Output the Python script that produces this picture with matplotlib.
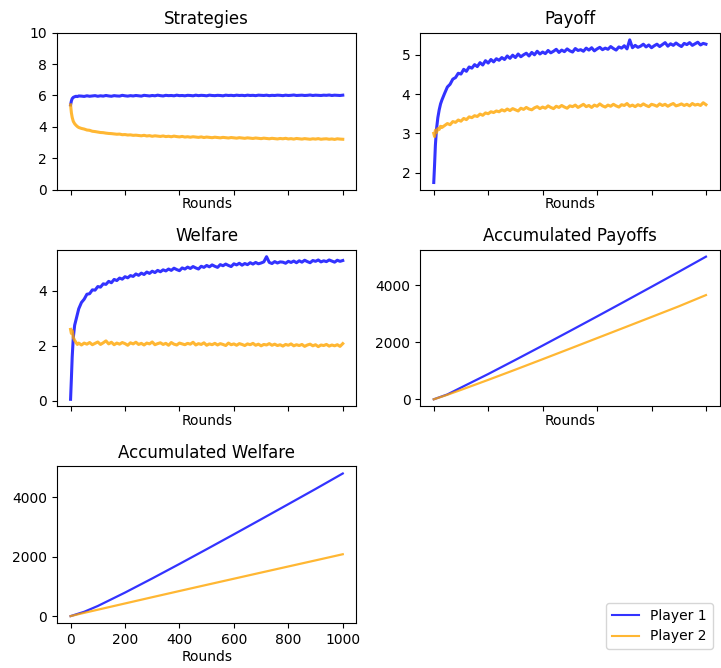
import matplotlib
matplotlib.use("Agg")
import matplotlib.pyplot as plt

# round index shared by the per-round series (dense at start, every 10 afterwards)
rounds = [0, 3, 6, 10, 15, 20, 25, 30] + list(range(40, 1001, 10))

strat_p1 = [5.40, 5.65, 5.80, 5.88, 5.92, 5.95, 5.93, 5.97,
            5.96, 5.94, 5.98, 5.95, 5.97, 5.99, 5.95, 5.98, 5.96, 6.00,
            5.97, 5.95, 5.99, 5.97, 5.96, 6.01, 5.98, 5.96, 5.99, 5.97,
            6.00, 5.98, 5.96, 6.01, 5.99, 5.97, 6.00, 5.98, 6.02, 5.99,
            5.97, 6.01, 5.99, 6.00, 5.98, 6.02, 5.99, 6.00, 5.98, 6.01,
            6.00, 5.98, 6.02, 5.99, 6.01, 6.00, 5.98, 6.02, 6.00, 5.99,
            6.01, 6.00, 5.98, 6.02, 6.00, 6.01, 5.99, 6.02, 6.00, 6.01,
            5.99, 6.02, 6.00, 6.01, 5.99, 6.02, 6.01, 6.00, 6.02, 5.99,
            6.01, 6.00, 6.02, 6.01, 5.99, 6.02, 6.00, 6.01, 6.03, 6.00,
            6.01, 6.02, 6.00, 6.01, 6.03, 6.00, 6.02, 6.01, 6.00, 6.02,
            6.01, 6.03, 6.00, 6.02, 6.01, 6.00, 6.02]
strat_p2 = [5.40, 4.90, 4.60, 4.35, 4.20, 4.10, 4.02, 3.96,
            3.90, 3.86, 3.80, 3.78, 3.72, 3.70, 3.67, 3.64, 3.63, 3.60,
            3.58, 3.57, 3.55, 3.53, 3.54, 3.50, 3.51, 3.48, 3.49, 3.46,
            3.47, 3.45, 3.43, 3.46, 3.42, 3.44, 3.40, 3.43, 3.41, 3.39,
            3.42, 3.38, 3.40, 3.37, 3.41, 3.38, 3.36, 3.39, 3.35, 3.37,
            3.34, 3.37, 3.35, 3.33, 3.36, 3.32, 3.35, 3.33, 3.31, 3.34,
            3.32, 3.30, 3.33, 3.31, 3.29, 3.32, 3.30, 3.28, 3.31, 3.29,
            3.27, 3.30, 3.28, 3.26, 3.29, 3.27, 3.25, 3.28, 3.26, 3.24,
            3.27, 3.25, 3.23, 3.26, 3.24, 3.27, 3.23, 3.25, 3.22, 3.26,
            3.24, 3.22, 3.25, 3.23, 3.21, 3.24, 3.22, 3.25, 3.21, 3.23,
            3.24, 3.21, 3.23, 3.20, 3.24, 3.22, 3.21]

payoff_p1 = [1.75, 2.20, 2.70, 3.10, 3.40, 3.60, 3.75, 3.85,
             4.02, 4.18, 4.25, 4.38, 4.42, 4.53, 4.51, 4.63, 4.58, 4.69,
             4.66, 4.75, 4.70, 4.80, 4.74, 4.85, 4.79, 4.88, 4.82, 4.90,
             4.86, 4.93, 4.88, 4.97, 4.91, 4.99, 4.93, 5.02, 4.95, 5.00,
             5.04, 4.97, 5.06, 5.00, 5.09, 5.02, 5.07, 5.03, 5.11, 5.05,
             5.09, 5.14, 5.06, 5.12, 5.08, 5.15, 5.10, 5.07, 5.16, 5.11,
             5.13, 5.09, 5.17, 5.12, 5.18, 5.10, 5.15, 5.19, 5.13, 5.17,
             5.14, 5.21, 5.16, 5.12, 5.20, 5.17, 5.23, 5.15, 5.38, 5.18,
             5.24, 5.19, 5.22, 5.27, 5.20, 5.25, 5.18, 5.23, 5.27, 5.21,
             5.26, 5.31, 5.22, 5.28, 5.24, 5.30, 5.25, 5.21, 5.29, 5.26,
             5.31, 5.24, 5.28, 5.32, 5.25, 5.29, 5.27]
payoff_p2 = [3.00, 2.92, 3.08, 3.02, 3.12, 3.10, 3.18, 3.15,
             3.20, 3.25, 3.22, 3.30, 3.28, 3.34, 3.31, 3.38, 3.35, 3.42,
             3.40, 3.45, 3.43, 3.49, 3.46, 3.52, 3.50, 3.55, 3.53, 3.57,
             3.55, 3.60, 3.57, 3.62, 3.58, 3.63, 3.60, 3.57, 3.64, 3.61,
             3.66, 3.62, 3.60, 3.65, 3.68, 3.63, 3.67, 3.64, 3.70, 3.66,
             3.63, 3.69, 3.66, 3.71, 3.67, 3.64, 3.70, 3.68, 3.72, 3.66,
             3.70, 3.74, 3.68, 3.71, 3.66, 3.72, 3.69, 3.75, 3.70, 3.67,
             3.72, 3.69, 3.74, 3.70, 3.67, 3.73, 3.71, 3.76, 3.69, 3.72,
             3.68, 3.73, 3.70, 3.75, 3.71, 3.68, 3.74, 3.72, 3.69, 3.75,
             3.71, 3.74, 3.69, 3.73, 3.76, 3.70, 3.72, 3.75, 3.71, 3.74,
             3.70, 3.76, 3.72, 3.74, 3.71, 3.78, 3.73]

welfare_p1 = [0.05, 0.80, 1.60, 2.30, 2.75, 2.95, 3.15, 3.35,
              3.58, 3.70, 3.88, 3.90, 4.04, 4.03, 4.16, 4.14, 4.26, 4.24,
              4.35, 4.30, 4.42, 4.38, 4.47, 4.43, 4.52, 4.48, 4.56, 4.53,
              4.62, 4.57, 4.65, 4.60, 4.69, 4.64, 4.72, 4.67, 4.75, 4.70,
              4.77, 4.73, 4.80, 4.75, 4.83, 4.78, 4.74, 4.84, 4.80, 4.87,
              4.82, 4.89, 4.84, 4.80, 4.90, 4.86, 4.93, 4.88, 4.95, 4.90,
              4.86, 4.96, 4.92, 4.98, 4.93, 4.89, 4.99, 4.95, 5.01, 4.94,
              5.00, 4.96, 5.03, 4.98, 5.04, 4.99, 5.02, 5.06, 5.25, 5.04,
              5.00, 5.07, 5.02, 5.06, 5.05, 5.01, 5.08, 5.04, 5.09, 5.03,
              5.10, 5.05, 5.12, 5.07, 5.03, 5.11, 5.08, 5.13, 5.06, 5.10,
              5.07, 5.13, 5.09, 5.05, 5.12, 5.08, 5.11]
welfare_p2 = [2.60, 2.45, 2.55, 2.30, 2.20, 2.12, 2.05, 2.10,
              2.03, 2.10, 2.06, 2.12, 2.04, 2.09, 2.14, 2.05, 2.11, 2.18,
              2.07, 2.13, 2.04, 2.10, 2.06, 2.12, 2.08, 2.02, 2.11, 2.07,
              2.13, 2.05, 2.09, 2.03, 2.10, 2.07, 2.14, 2.04, 2.08, 2.11,
              2.05, 2.09, 2.02, 2.12, 2.06, 2.03, 2.10, 2.07, 2.04, 2.09,
              2.06, 2.13, 2.03, 2.08, 2.05, 2.11, 2.02, 2.07, 2.04, 2.09,
              2.03, 2.08, 2.05, 2.01, 2.10, 2.04, 2.07, 2.02, 2.08, 2.05,
              2.01, 2.07, 2.04, 2.09, 2.02, 2.06, 2.00, 2.05, 2.03, 2.08,
              2.02, 2.06, 2.01, 2.04, 1.99, 2.05, 2.02, 2.07, 2.00, 2.04,
              2.01, 2.05, 1.98, 2.03, 2.06, 2.00, 2.04, 1.97, 2.03, 2.01,
              2.05, 1.99, 2.03, 2.00, 2.04, 1.98, 2.08]

# accumulated totals, read at coarser round steps
acc_rounds = [0, 50, 100, 200, 300, 400, 500, 600, 700, 800, 900, 1000]
acc_payoff_p1 = [0, 170, 410, 885, 1380, 1882, 2390, 2902, 3419, 3940, 4464, 4995]
acc_payoff_p2 = [0, 158, 330, 680, 1039, 1404, 1772, 2142, 2512, 2883, 3255, 3650]
acc_welfare_p1 = [0, 145, 340, 790, 1265, 1752, 2247, 2747, 3252, 3760, 4270, 4790]
acc_welfare_p2 = [0, 110, 215, 425, 635, 843, 1050, 1256, 1462, 1667, 1872, 2078]

c1 = 'blue'
c2 = 'orange'

fig, axes = plt.subplots(3, 2, sharex=True, figsize=(7.21, 6.68), dpi=100)
plt.subplots_adjust(left=0.079, right=0.998, top=0.951, bottom=0.067,
                    wspace=0.213, hspace=0.382)

# (axis, title, x, player 1, player 2, line width)
panels = [
    (axes[0, 0], 'Strategies', rounds, strat_p1, strat_p2, 2.2),
    (axes[0, 1], 'Payoff', rounds, payoff_p1, payoff_p2, 2.2),
    (axes[1, 0], 'Welfare', rounds, welfare_p1, welfare_p2, 2.2),
    (axes[1, 1], 'Accumulated Payoffs', acc_rounds, acc_payoff_p1, acc_payoff_p2, 1.6),
    (axes[2, 0], 'Accumulated Welfare', acc_rounds, acc_welfare_p1, acc_welfare_p2, 1.6),
]

for ax, title, x, y1, y2, lw in panels:
    ax.plot(x, y1, color=c1, alpha=0.8, linewidth=lw, label='Player 1')
    ax.plot(x, y2, color=c2, alpha=0.8, linewidth=lw, label='Player 2')
    ax.set_title(title)
    ax.set_xlabel('Rounds', labelpad=2)

axes[0, 0].set_ylim(0, 10)
axes[2, 0].set_xticks([0, 200, 400, 600, 800, 1000])

axes[2, 1].remove()
h1, = axes[2, 0].plot([], [], color=c1, alpha=0.8, linewidth=1.5)
h2, = axes[2, 0].plot([], [], color=c2, alpha=0.8, linewidth=1.5)
fig.legend([h1, h2], ['Player 1', 'Player 2'], loc='lower right',
           bbox_to_anchor=(0.998, 0.018))

plt.savefig('out.png', dpi=100)
